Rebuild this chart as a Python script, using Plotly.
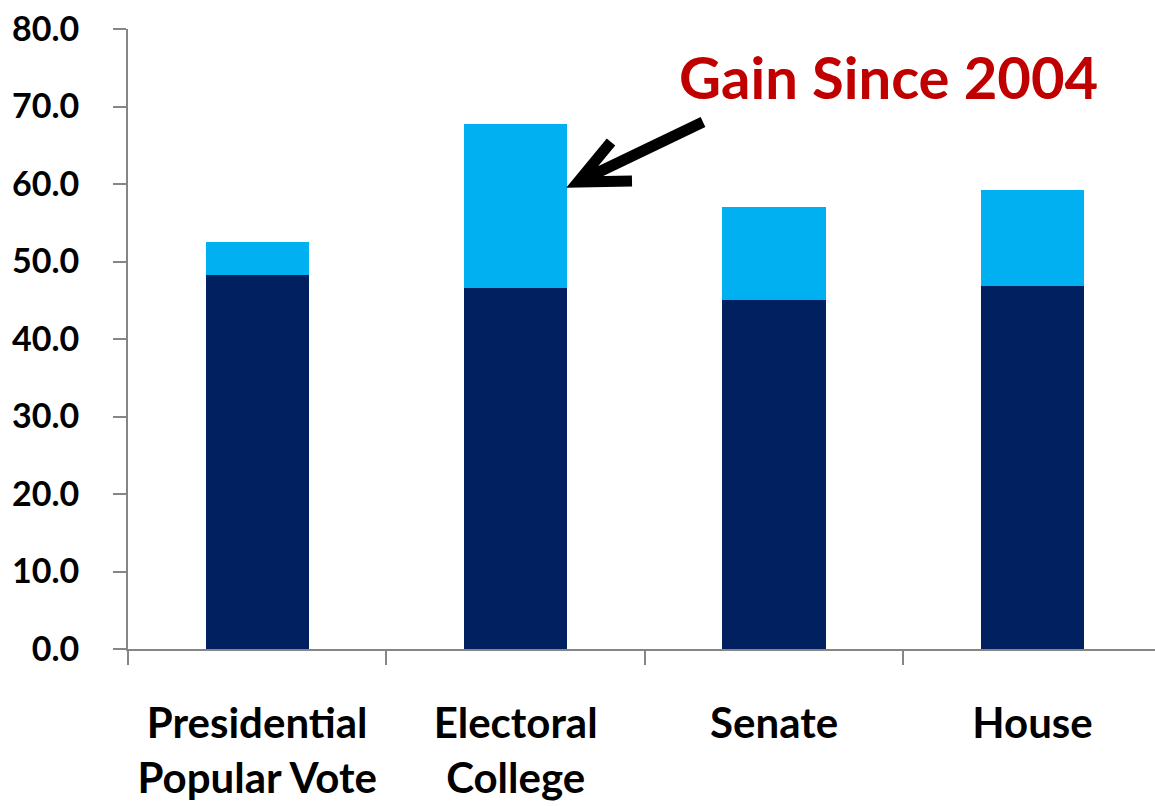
import plotly.graph_objects as go

categories = ["Presidential<br>Popular Vote", "Electoral<br>College", "Senate", "House"]
base_2004 = [48.3, 46.6, 45.0, 46.9]
gain_since_2004 = [4.2, 21.2, 12.0, 12.3]
y_ticks = [0, 10, 20, 30, 40, 50, 60, 70, 80]
y_tick_text = [f"{v:.1f}" for v in y_ticks]

DARK = "#002060"
LIGHT = "#00B0F0"
GRAY = "#868686"
FONT = "Lato"

fig = go.Figure()
fig.add_trace(go.Bar(x=categories, y=base_2004, marker=dict(color=DARK, line=dict(width=0)),
                     name="2004"))
fig.add_trace(go.Bar(x=categories, y=gain_since_2004, marker=dict(color=LIGHT, line=dict(width=0)),
                     name="Gain Since 2004"))

# plot-area pixel geometry helpers (paper coords) for the annotation arrow
L, R, T, B = 128, 0, 29, 157
W, H = 1155, 806
pw, ph = W - L - R, H - T - B


def px(xp):
    return (xp - L) / pw


def py(yp):
    return (H - B - yp) / ph


tip = (578, 182)
tail = (703, 122)
arm1 = (632, 181)
arm2 = (611, 142)
path = (f"M {px(tail[0])},{py(tail[1])} L {px(tip[0])},{py(tip[1])} "
        f"M {px(arm1[0])},{py(arm1[1])} L {px(tip[0])},{py(tip[1])} L {px(arm2[0])},{py(arm2[1])}")

fig.add_shape(type="path", path=path, xref="paper", yref="paper",
              line=dict(color="black", width=11))

fig.add_annotation(text="Gain Since 2004", xref="paper", yref="paper",
                   x=px(888), y=py(76), showarrow=False, xanchor="center", yanchor="middle",
                   font=dict(family=FONT, size=58, color="#C00000", weight="bold"))

fig.update_layout(
    width=W, height=H,
    barmode="stack", bargap=0.6,
    showlegend=False,
    plot_bgcolor="white", paper_bgcolor="white",
    margin=dict(l=L, r=R, t=T, b=B, pad=0),
    font=dict(family=FONT, color="black"),
)
fig.update_xaxes(
    range=[-0.5, 3.474], type="category",
    showline=True, linecolor=GRAY, linewidth=2,
    ticks="outside", tickson="boundaries", ticklen=14, tickcolor=GRAY, tickwidth=1.5,
    tickfont=dict(family=FONT, size=42, color="black", weight="bold"),
    ticklabelstandoff=37,
    showgrid=False, zeroline=False,
)
fig.update_yaxes(
    range=[0, 80], tickvals=y_ticks, ticktext=y_tick_text,
    showline=True, linecolor=GRAY, linewidth=2,
    ticks="outside", ticklen=13, tickcolor=GRAY, tickwidth=1.5,
    tickfont=dict(family=FONT, size=34, color="black", weight="bold"),
    ticklabelstandoff=27,
    showgrid=False, zeroline=False,
)

fig.write_html("out.html")
